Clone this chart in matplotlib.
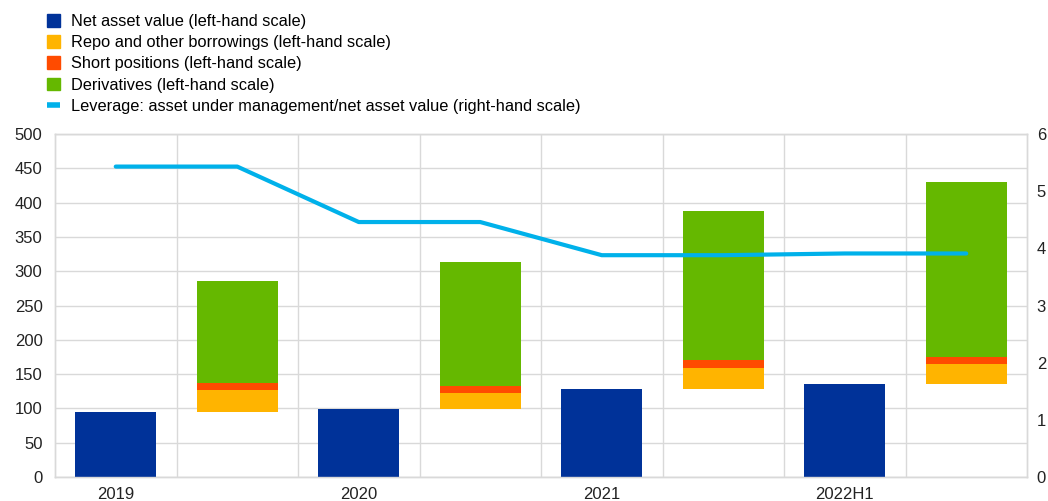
import matplotlib.pyplot as plt
import numpy as np
from matplotlib.patches import Patch
from matplotlib.lines import Line2D

plt.rcParams["font.family"] = ["Liberation Sans", "DejaVu Sans"]

periods = ["2019", "2020", "2021", "2022H1"]
nav = [95, 99, 129, 136]
repo = [32, 24, 30, 29]
short_pos = [10.5, 9, 11.5, 10]
derivatives = [148.5, 181, 217, 255]
leverage = [5.43, 5.43, 4.46, 4.46, 3.88, 3.88, 3.91, 3.91]

NAVY = "#003299"
YELLOW = "#FFB400"
RED = "#FF4B00"
GREEN = "#65B800"
CYAN = "#00B1EA"
GRID = "#d9d9d9"

fig = plt.figure(figsize=(10.48, 5.01), dpi=100)
ax = fig.add_axes([55 / 1048, 24 / 501, 972 / 1048, 343 / 501])
ax2 = ax.twinx()

n = len(periods)
x_nav = np.arange(n) * 2
x_wf = x_nav + 1
w = 0.667

nav = np.array(nav, dtype=float)
repo = np.array(repo, dtype=float)
short_pos = np.array(short_pos, dtype=float)
derivatives = np.array(derivatives, dtype=float)

ax.bar(x_nav, nav, width=w, color=NAVY, zorder=3)
ax.bar(x_wf, repo, bottom=nav, width=w, color=YELLOW, zorder=3)
ax.bar(x_wf, short_pos, bottom=nav + repo, width=w, color=RED, zorder=3)
ax.bar(x_wf, derivatives, bottom=nav + repo + short_pos, width=w, color=GREEN, zorder=3)

ax2.plot(np.arange(len(leverage)), leverage, color=CYAN, lw=3,
         solid_capstyle="round", solid_joinstyle="round", zorder=4)

ax.set_xlim(-0.5, 2 * n - 0.5)
ax.set_ylim(0, 500)
ax.set_yticks(np.arange(0, 501, 50))
ax2.set_ylim(0, 6)
ax2.set_yticks(np.arange(0, 7, 1))

ax.set_xticks(x_nav)
ax.set_xticklabels(periods)
ax.set_xticks(np.arange(0.5, 2 * n - 0.5, 1), minor=True)

ax.grid(axis="y", color=GRID, lw=1, zorder=0)
ax.grid(axis="x", which="minor", color=GRID, lw=1, zorder=0)
ax.set_axisbelow(True)

for a in (ax, ax2):
    for s in a.spines.values():
        s.set_color(GRID)
        s.set_linewidth(1)
    a.tick_params(which="both", length=0, labelsize=12, colors="#222222")
ax.tick_params(axis="y", pad=9)
ax2.tick_params(axis="y", pad=7)
ax.tick_params(axis="x", pad=7)

handles = [
    Patch(color=NAVY, label="Net asset value (left-hand scale)"),
    Patch(color=YELLOW, label="Repo and other borrowings (left-hand scale)"),
    Patch(color=RED, label="Short positions (left-hand scale)"),
    Patch(color=GREEN, label="Derivatives (left-hand scale)"),
    Line2D([0], [0], color=CYAN, lw=4, solid_capstyle="butt",
           label="Leverage: asset under management/net asset value (right-hand scale)"),
]
fig.legend(handles=handles, loc="upper left", bbox_to_anchor=(33 / 1048, 1.0),
           frameon=False, fontsize=11.8, handlelength=0.8, handleheight=0.8,
           handletextpad=0.67, labelspacing=0.38, borderaxespad=0.45)

fig.savefig("out.png", dpi=100)
